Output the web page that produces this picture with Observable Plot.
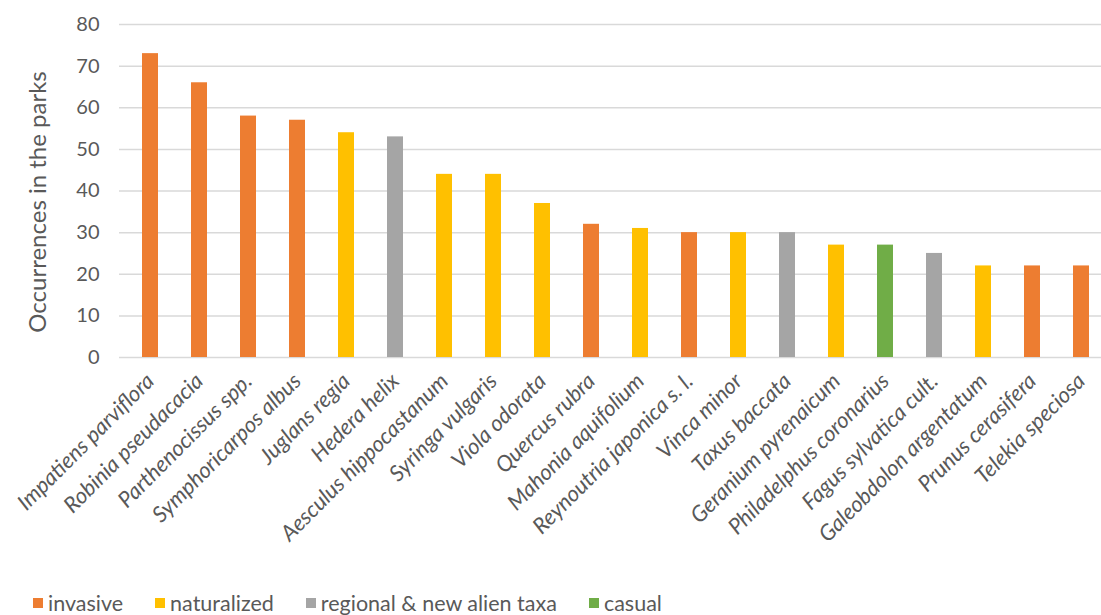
<!DOCTYPE html>
<html>
<head>
<meta charset="utf-8">
<script src="https://cdn.jsdelivr.net/npm/d3@7"></script>
<script src="https://cdn.jsdelivr.net/npm/@observablehq/plot@0.6"></script>
<style>
  body { margin: 0; background: #fff; font-family: Lato, sans-serif; }
  #chart svg { display: block; }
  g[aria-label="x-axis tick label"] text { font-style: italic; }
  .lg-swatches { font-family: Lato, sans-serif !important; font-size: 21.5px !important; color: #595959 !important;
                 margin: 0 0 0 33px !important; min-height: 0 !important; }
  .lg-swatch { margin-right: 32px !important; }
  .lg-swatch svg { margin-right: 5px !important; }
</style>
</head>
<body>
<div id="chart"></div>
<script>
// Most frequent alien taxa in the parks, with their status
const taxa = [
  "Impatiens parviflora", "Robinia pseudacacia", "Parthenocissus spp.", "Symphoricarpos albus",
  "Juglans regia", "Hedera helix", "Aesculus hippocastanum", "Syringa vulgaris", "Viola odorata",
  "Quercus rubra", "Mahonia aquifolium", "Reynoutria japonica s. l.", "Vinca minor", "Taxus baccata",
  "Geranium pyrenaicum", "Philadelphus coronarius", "Fagus sylvatica cult.", "Galeobdolon argentatum",
  "Prunus cerasifera", "Telekia speciosa"
];
const occurrences = [73, 66, 58, 57, 54, 53, 44, 44, 37, 32, 31, 30, 30, 30, 27, 27, 25, 22, 22, 22];
const status = [
  "invasive", "invasive", "invasive", "invasive", "naturalized", "regional & new alien taxa",
  "naturalized", "naturalized", "naturalized", "invasive", "naturalized", "invasive", "naturalized",
  "regional & new alien taxa", "naturalized", "casual", "regional & new alien taxa", "naturalized",
  "invasive", "invasive"
];
const statusOrder = ["invasive", "naturalized", "regional & new alien taxa", "casual"];
const statusColors = ["#ED7D31", "#FFC000", "#A5A5A5", "#70AD47"];
const yTicks = [0, 10, 20, 30, 40, 50, 60, 70, 80];
const yTitle = "Occurrences in the parks";

const rows = taxa.map((t, i) => ({taxon: t, n: occurrences[i], status: status[i]}));

const chart = Plot.plot({
  width: 1101,
  height: 590,
  marginTop: 24,
  marginBottom: 233,
  marginLeft: 119,
  marginRight: 0,
  style: {fontFamily: "Lato, sans-serif", color: "#595959", background: "#fff", overflow: "hidden"},
  x: {type: "band", domain: taxa, range: [119, 1112], paddingInner: 0.68, paddingOuter: 0.34, align: 0.5},
  y: {domain: [0, 80]},
  color: {domain: statusOrder, range: statusColors},
  marks: [
    Plot.ruleY(yTicks, {stroke: "#d9d9d9", strokeWidth: 1.5}),
    Plot.barY(rows, {x: "taxon", y: "n", fill: "status"}),
    Plot.axisY({ticks: yTicks, tickSize: 0, tickPadding: 20, fontSize: 20, label: null}),
    // vertical axis title, centred a little below the frame middle
    Plot.text([yTitle], {
      frameAnchor: "left", textAnchor: "middle", lineAnchor: "middle",
      rotate: -90, dx: -81, dy: 11,
      fontSize: 24, fill: "#595959"
    }),
    Plot.axisX({tickSize: 0, tickRotate: -45, fontSize: 22, tickPadding: 20, label: null})
  ]
});
document.getElementById("chart").appendChild(chart);

const legend = Plot.legend({
  color: {domain: statusOrder, range: statusColors},
  legend: "swatches",
  swatchSize: 10,
  className: "lg"
});
document.getElementById("chart").appendChild(legend);
</script>
</body>
</html>
